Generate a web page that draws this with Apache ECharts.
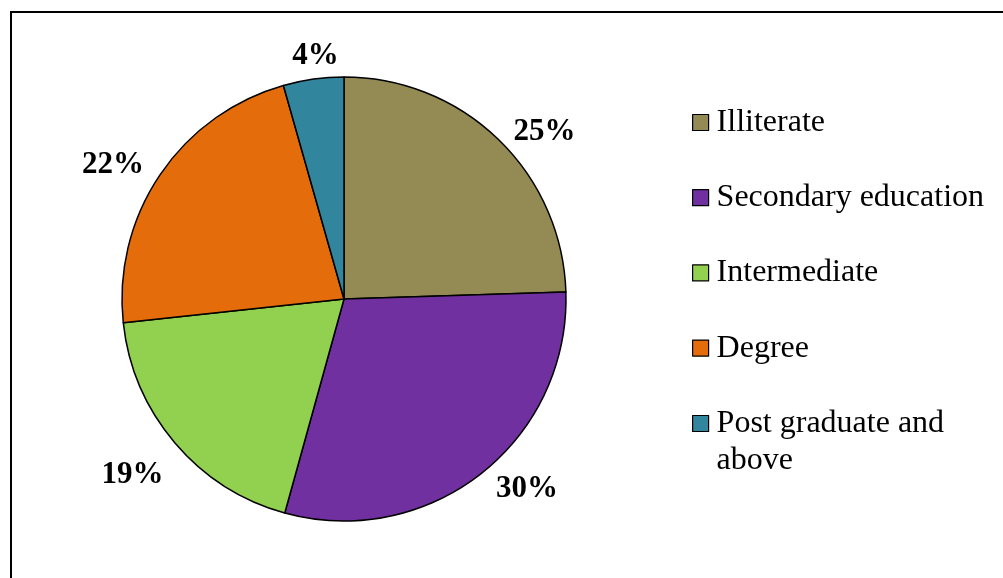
<!DOCTYPE html>
<html>
<head>
<meta charset="utf-8">
<script src="https://cdn.jsdelivr.net/npm/echarts@6/dist/echarts.min.js"></script>
<style>
html,body{margin:0;padding:0;background:#fff;}
#chart{width:1003px;height:578px;}
</style>
</head>
<body>
<div id="chart"></div>
<script>
// Data
const categories = ['Illiterate', 'Secondary education', 'Intermediate', 'Degree', 'Post graduate and above'];
const shares = [24.5, 29.8, 19.0, 22.3, 4.4];

// Styles
const sliceColors = ['#948A54', '#7030A0', '#92D050', '#E46C0A', '#31859C'];
const labelLineLen = [10, 19, 50, 17, 23.5];
const labelLineLen2 = [3, -2, -32, -3, -33.5];

const serif = "'Liberation Serif', 'Times New Roman', serif";

const chart = echarts.init(document.getElementById('chart'), null, {renderer: 'canvas'});

const pieData = categories.map((name, i) => ({
  name: name,
  value: shares[i],
  itemStyle: {color: sliceColors[i]},
  labelLine: {show: false, length: labelLineLen[i], length2: labelLineLen2[i]}
}));

const legendBase = {
  orient: 'vertical',
  left: 692,
  padding: 0,
  itemGap: 38.2,
  itemWidth: 16,
  itemHeight: 16,
  icon: 'rect',
  itemStyle: {borderColor: '#000', borderWidth: 1.2},
  textStyle: {
    fontFamily: serif,
    fontSize: 32,
    lineHeight: 37,
    color: '#000',
    padding: [0, 0, 0, 3]
  }
};

chart.setOption({
  backgroundColor: '#fff',
  animation: false,
  graphic: [{
    type: 'rect',
    shape: {x: 11, y: 12, width: 1100, height: 700},
    style: {fill: 'none', stroke: '#000', lineWidth: 2},
    silent: true,
    z: -1
  }],
  legend: [
    Object.assign({}, legendBase, {
      top: 104,
      data: categories.slice(0, 4)
    }),
    Object.assign({}, legendBase, {
      top: 368,
      data: categories.slice(4),
      // empty first line keeps the icon level with the first visible line
      formatter: function () { return '\nPost graduate and\nabove'; }
    })
  ],
  series: [{
    type: 'pie',
    center: [344, 299],
    radius: 222,
    startAngle: 90,
    clockwise: true,
    avoidLabelOverlap: false,
    itemStyle: {borderColor: '#000', borderWidth: 1.5},
    emphasis: {disabled: true},
    label: {
      show: true,
      position: 'outside',
      distanceToLabelLine: 5,
      fontFamily: serif,
      fontSize: 31,
      fontWeight: 'bold',
      color: '#000',
      formatter: function (p) { return Math.round(p.percent) + '%'; }
    },
    labelLine: {show: false},
    data: pieData
  }]
});
</script>
</body>
</html>
